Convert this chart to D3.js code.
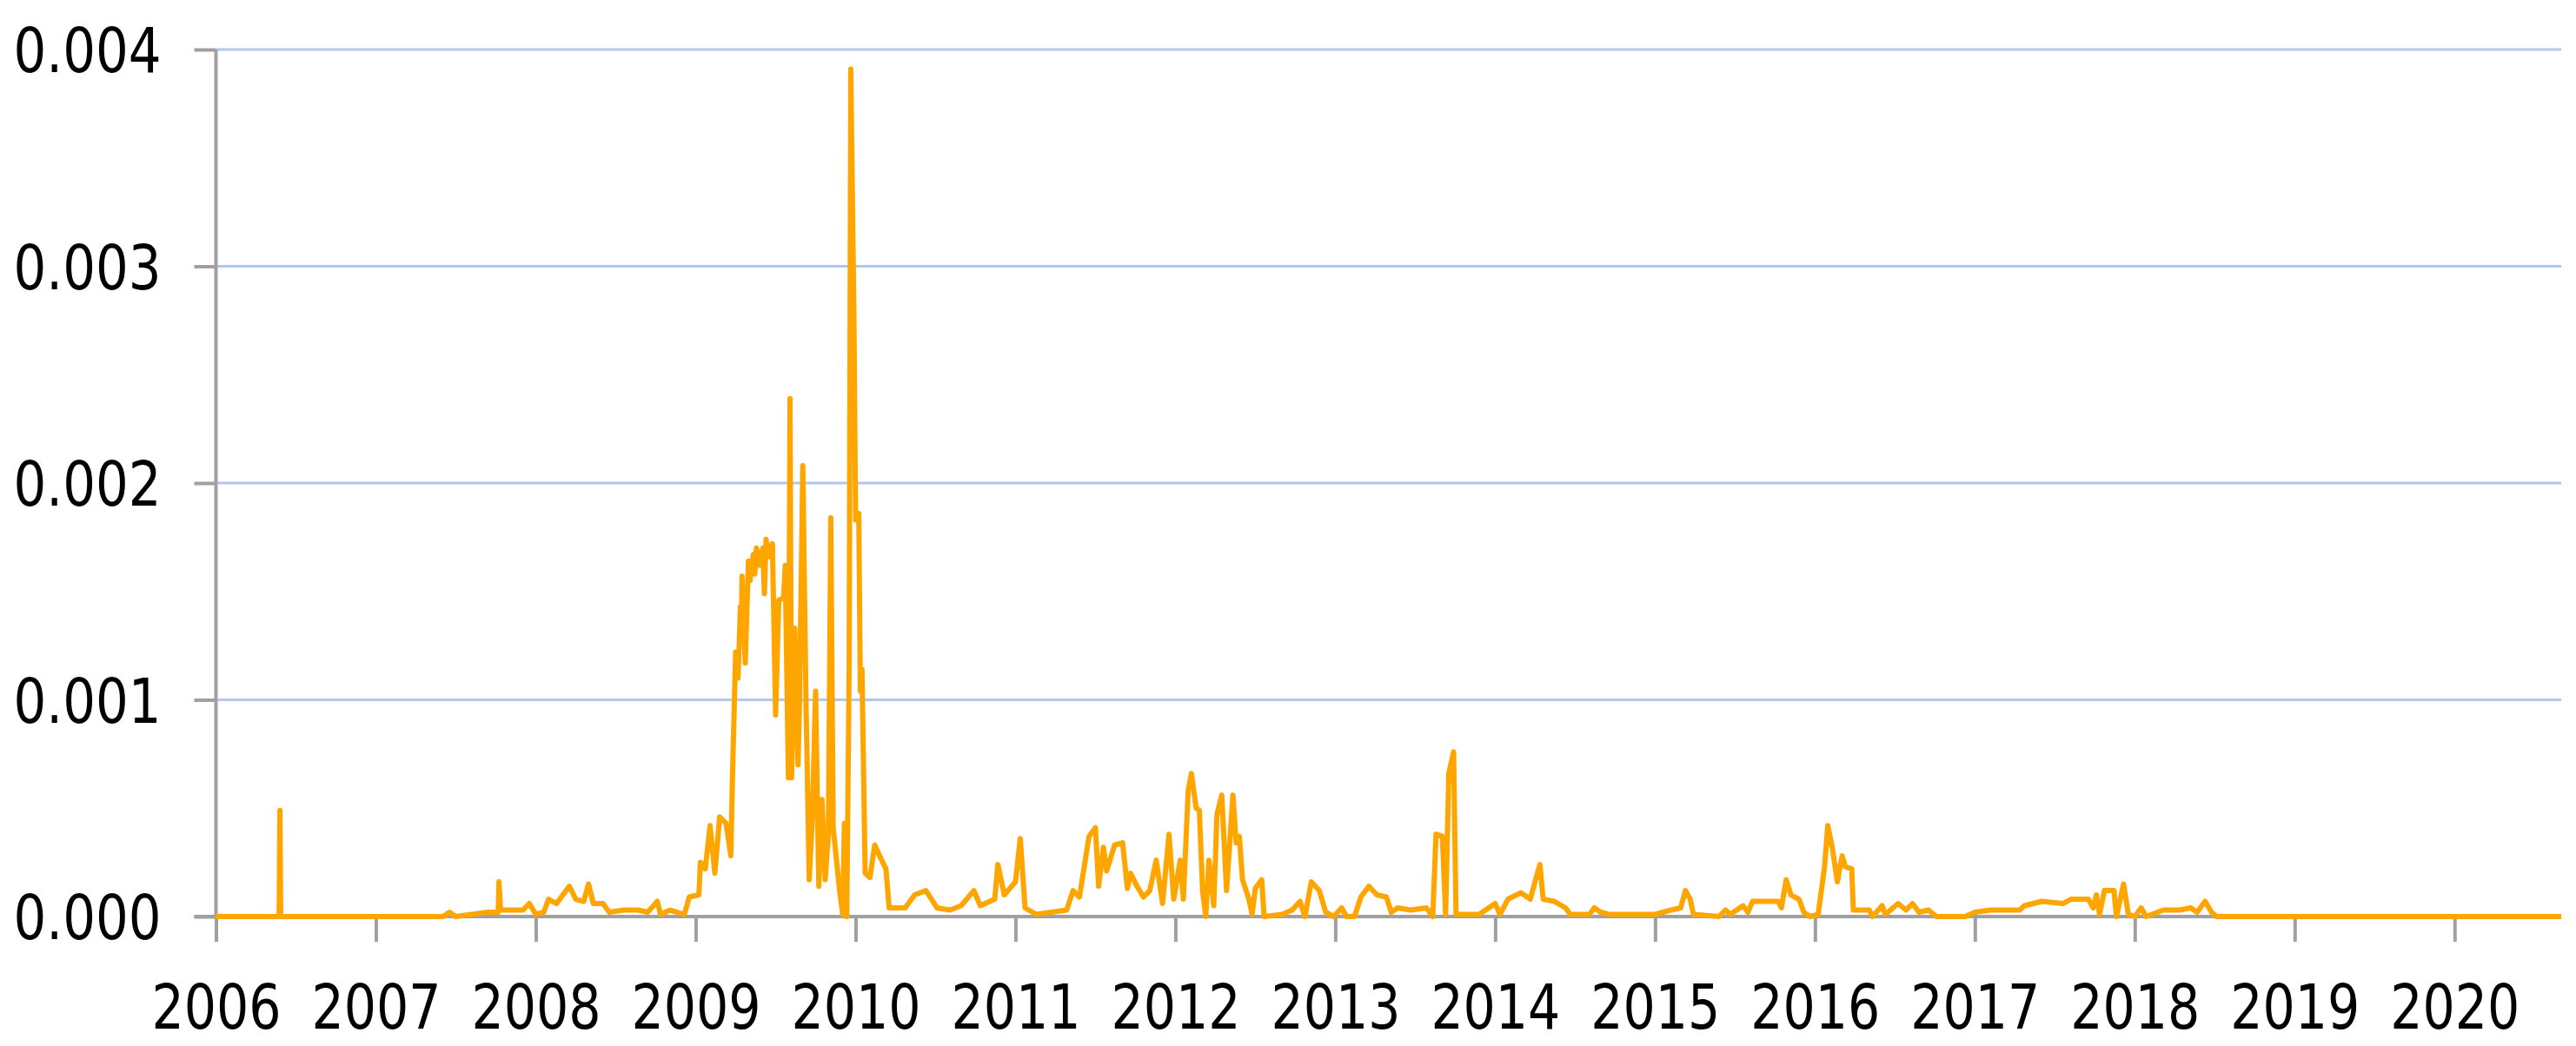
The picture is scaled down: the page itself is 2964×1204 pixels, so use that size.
<!DOCTYPE html>
<html>
<head>
<meta charset="utf-8">
<script src="https://cdn.jsdelivr.net/npm/d3@7"></script>
<style>
  html, body { margin: 0; padding: 0; background: #ffffff; }
  svg { display: block; }
  .lbl { font-family: "DejaVu Sans", sans-serif; font-stretch: condensed; font-size: 71px; fill: #000; }
</style>
</head>
<body>
<script>
// ---- data (decimal year, value) ----
const dates = [
  2006.00, 2006.395, 2006.40, 2006.405, 2007.42, 2007.46, 2007.50, 2007.60, 2007.70, 2007.765,
  2007.77, 2007.78, 2007.85, 2007.92, 2007.96, 2008.00, 2008.05, 2008.08, 2008.13, 2008.21,
  2008.25, 2008.30, 2008.33, 2008.36, 2008.42, 2008.46, 2008.55, 2008.64, 2008.70, 2008.76,
  2008.78, 2008.84, 2008.93, 2008.96, 2009.02, 2009.03, 2009.06, 2009.09, 2009.12, 2009.15,
  2009.19, 2009.22, 2009.23, 2009.25, 2009.265, 2009.28, 2009.285, 2009.29, 2009.31, 2009.33,
  2009.34, 2009.36, 2009.37, 2009.38, 2009.40, 2009.42, 2009.43, 2009.44, 2009.46, 2009.48,
  2009.50, 2009.52, 2009.55, 2009.56, 2009.58, 2009.59,
  2009.60, 2009.62, 2009.64, 2009.65, 2009.67, 2009.69, 2009.71, 2009.73, 2009.75, 2009.77,
  2009.79, 2009.81, 2009.83, 2009.845, 2009.86, 2009.90, 2009.92, 2009.93, 2009.945, 2009.96,
  2009.97, 2009.99, 2010.00, 2010.02, 2010.03, 2010.04, 2010.06, 2010.09, 2010.12, 2010.15,
  2010.19, 2010.21, 2010.31, 2010.37, 2010.44, 2010.51, 2010.59, 2010.66, 2010.74, 2010.78,
  2010.87, 2010.89, 2010.93, 2011.00, 2011.03, 2011.06, 2011.13, 2011.32, 2011.36, 2011.40,
  2011.46, 2011.50, 2011.52, 2011.55, 2011.57, 2011.62, 2011.67, 2011.70, 2011.72, 2011.76,
  2011.80, 2011.84, 2011.88, 2011.92, 2011.96, 2011.99, 2012.03, 2012.05, 2012.08, 2012.10,
  2012.13, 2012.15, 2012.17, 2012.19, 2012.21, 2012.24, 2012.26, 2012.29, 2012.32, 2012.36,
  2012.38, 2012.40, 2012.42, 2012.46, 2012.48, 2012.50, 2012.54, 2012.555, 2012.67, 2012.73,
  2012.78, 2012.81, 2012.85, 2012.90, 2012.94, 2012.99, 2013.04, 2013.07, 2013.12, 2013.16,
  2013.21, 2013.26, 2013.32, 2013.35, 2013.39, 2013.47, 2013.57, 2013.61, 2013.63, 2013.67,
  2013.69, 2013.71, 2013.74, 2013.755, 2013.90, 2014.00, 2014.03, 2014.08, 2014.16, 2014.22,
  2014.26, 2014.28, 2014.30, 2014.37, 2014.44, 2014.47, 2014.59, 2014.62, 2014.66, 2014.71,
  2015.00, 2015.10, 2015.16, 2015.19, 2015.22, 2015.24, 2015.40, 2015.44, 2015.47, 2015.55,
  2015.58, 2015.61, 2015.77, 2015.79, 2015.82, 2015.85, 2015.90, 2015.93, 2015.97, 2016.02,
  2016.04, 2016.06, 2016.08, 2016.11, 2016.14, 2016.17, 2016.19, 2016.23, 2016.24, 2016.34,
  2016.36, 2016.42, 2016.44, 2016.52, 2016.57, 2016.61, 2016.65, 2016.71, 2016.76, 2016.94,
  2017.00, 2017.10, 2017.28, 2017.31, 2017.42, 2017.55, 2017.60, 2017.71, 2017.74, 2017.76,
  2017.78, 2017.81, 2017.87, 2017.885, 2017.93, 2017.96, 2018.00, 2018.04, 2018.07, 2018.18,
  2018.28, 2018.35, 2018.39, 2018.44, 2018.48, 2018.51, 2020.667
];
const values = [
  0, 0, 0.00049, 0, 0, 0.00002, 0, 0.00001, 0.00002, 0.00002,
  0.00016, 0.00003, 0.00003, 0.00003, 0.00006, 0.00001, 0.00002, 0.00008, 0.00006, 0.00014,
  0.00008, 0.00007, 0.00015, 0.00006, 0.00006, 0.00002, 0.00003, 0.00003, 0.00002, 0.00007,
  0.00001, 0.00003, 0.00001, 0.00009, 0.00010, 0.00025, 0.00022, 0.00042, 0.00020, 0.00046,
  0.00043, 0.00028, 0.00064, 0.00122, 0.00110, 0.00143, 0.00130, 0.00157, 0.00117, 0.00164,
  0.00155, 0.00167, 0.00158, 0.00170, 0.00162, 0.00170, 0.00149, 0.00174, 0.00166, 0.00172,
  0.00093, 0.00146, 0.00147, 0.00162, 0.00064, 0.00239,
  0.00064, 0.00133, 0.00070, 0.00101, 0.00208, 0.00099, 0.00017, 0.00046, 0.00104, 0.00014,
  0.00054, 0.00017, 0.00038, 0.00184, 0.00041, 0.00012, 0.00001, 0.00043, 0, 0.00117,
  0.00391, 0.00275, 0.00183, 0.00186, 0.00104, 0.00114, 0.00020, 0.00018, 0.00033, 0.00028,
  0.00022, 0.00004, 0.00004, 0.00010, 0.00012, 0.00004, 0.00003, 0.00005, 0.00012, 0.00005,
  0.00008, 0.00024, 0.00010, 0.00016, 0.00036, 0.00004, 0.00001, 0.00003, 0.00012, 0.00009,
  0.00037, 0.00041, 0.00014, 0.00032, 0.00021, 0.00033, 0.00034, 0.00013, 0.00020, 0.00014,
  0.00009, 0.00012, 0.00026, 0.00006, 0.00038, 0.00008, 0.00026, 0.00008, 0.00058, 0.00066,
  0.00050, 0.00049, 0.00012, 0, 0.00026, 0.00005, 0.00047, 0.00056, 0.00012, 0.00056,
  0.00034, 0.00037, 0.00017, 0.00008, 0.00001, 0.00013, 0.00017, 0, 0.00001, 0.00003,
  0.00007, 0, 0.00016, 0.00012, 0.00002, 0, 0.00004, 0, 0, 0.00009,
  0.00014, 0.00010, 0.00009, 0.00002, 0.00004, 0.00003, 0.00004, 0, 0.00038, 0.00037,
  0.00001, 0.00066, 0.00076, 0.00001, 0.00001, 0.00006, 0.00001, 0.00008, 0.00011, 0.00008,
  0.00019, 0.00024, 0.00008, 0.00007, 0.00004, 0.00001, 0.00001, 0.00004, 0.00002, 0.00001,
  0.00001, 0.00003, 0.00004, 0.00012, 0.00008, 0.00001, 0, 0.00003, 0.00001, 0.00005,
  0.00002, 0.00007, 0.00007, 0.00004, 0.00017, 0.00010, 0.00008, 0.00002, 0, 0.00001,
  0.00012, 0.00023, 0.00042, 0.00031, 0.00016, 0.00028, 0.00023, 0.00022, 0.00003, 0.00003,
  0, 0.00005, 0.00001, 0.00006, 0.00003, 0.00006, 0.00002, 0.00003, 0, 0,
  0.00002, 0.00003, 0.00003, 0.00005, 0.00007, 0.00006, 0.00008, 0.00008, 0.00004, 0.00010,
  0.00001, 0.00012, 0.00012, 0, 0.00015, 0.00001, 0, 0.00004, 0, 0.00003,
  0.00003, 0.00004, 0.00002, 0.00007, 0.00002, 0, 0
];
const yTicks = [0, 0.001, 0.002, 0.003, 0.004];
const yTickLabels = ["0.000", "0.001", "0.002", "0.003", "0.004"];
const xTicks = [2006, 2007, 2008, 2009, 2010, 2011, 2012, 2013, 2014, 2015, 2016, 2017, 2018, 2019, 2020];
const xTickLabels = ["2006", "2007", "2008", "2009", "2010", "2011", "2012", "2013", "2014", "2015", "2016", "2017", "2018", "2019", "2020"];

// ---- layout ----
const W = 2964, H = 1204;
const plotL = 248.5, plotR = 2947, plotT = 57, plotB = 1055;

const svg = d3.select("body").append("svg").attr("width", W).attr("height", H);

const x = d3.scaleLinear().domain([2006, 2020.667]).range([plotL, plotR]);
const y = d3.scaleLinear().domain([0, 0.004]).range([plotB, plotT]);

// gridlines
svg.append("g").selectAll("line")
  .data(yTicks.filter(d => d > 0))
  .join("line")
  .attr("x1", plotL).attr("x2", plotR)
  .attr("y1", d => y(d)).attr("y2", d => y(d))
  .attr("stroke", "#b0c8ee").attr("stroke-width", 3);

// y axis
const yAxis = d3.axisLeft(y).tickValues(yTicks).tickSize(25).tickPadding(38)
  .tickFormat((d, i) => yTickLabels[i]);
const gy = svg.append("g").attr("transform", `translate(${plotL},0)`).call(yAxis);
gy.select(".domain").remove();
gy.selectAll(".tick line").attr("stroke", "#a0a0a0").attr("stroke-width", 4);
gy.selectAll(".tick text").attr("class", "lbl").attr("dy", "0.36em")
  .attr("textLength", 170).attr("lengthAdjust", "spacingAndGlyphs");
gy.append("line").attr("x1", 0).attr("x2", 0).attr("y1", plotT).attr("y2", plotB)
  .attr("stroke", "#a0a0a0").attr("stroke-width", 4);

// x axis
const xAxis = d3.axisBottom(x).tickValues(xTicks).tickSize(29).tickPadding(48)
  .tickFormat((d, i) => xTickLabels[i]);
const gx = svg.append("g").attr("transform", `translate(0,${plotB})`).call(xAxis);
gx.select(".domain").remove();
gx.selectAll(".tick line").attr("stroke", "#a0a0a0").attr("stroke-width", 4);
gx.selectAll(".tick text").attr("class", "lbl").attr("dy", "0.73em")
  .attr("textLength", 149).attr("lengthAdjust", "spacingAndGlyphs");
gx.append("line").attr("x1", plotL - 25).attr("x2", plotR).attr("y1", 0).attr("y2", 0)
  .attr("stroke", "#a0a0a0").attr("stroke-width", 4);

// series line
const data = dates.map((d, i) => ({ t: d, v: values[i] }));
const line = d3.line().x(d => x(d.t)).y(d => y(d.v));
svg.append("path")
  .datum(data)
  .attr("d", line)
  .attr("fill", "none")
  .attr("stroke", "#ffa500")
  .attr("stroke-width", 6)
  .attr("stroke-linejoin", "round");
</script>
</body>
</html>
